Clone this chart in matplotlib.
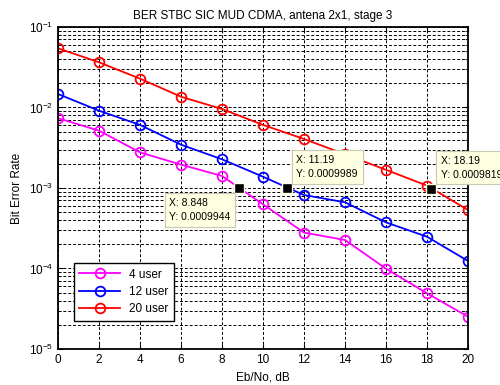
import matplotlib
matplotlib.use("Agg")
import matplotlib.pyplot as plt
import numpy as np

plt.rcParams['font.family'] = ['Liberation Sans', 'DejaVu Sans']

ebno = [0, 2, 4, 6, 8, 10, 12, 14, 16, 18, 20]
ber_4 = [0.00735, 0.00515, 0.00277, 0.00195, 0.00141, 0.000627, 0.000279, 0.000226, 0.0000995, 0.0000492, 0.0000252]
ber_12 = [0.0147, 0.00912, 0.00607, 0.00345, 0.00227, 0.00138, 0.000818, 0.000664, 0.000374, 0.000248, 0.000124]
ber_20 = [0.0543, 0.0364, 0.0228, 0.0136, 0.00957, 0.00607, 0.00406, 0.00262, 0.00168, 0.00107, 0.000533]
labels = ['4 user', '12 user', '20 user']
colors = ['#FF00FF', '#0000FF', '#FF0000']

tips_x = [8.848, 11.19, 18.19]
tips_y = [0.0009944, 0.0009989, 0.0009819]
tips_txt = ['X: 8.848\nY: 0.0009944', 'X: 11.19\nY: 0.0009989', 'X: 18.19\nY: 0.0009819']
tips_off = [(-70, -10), (9, 9), (10, 9)]
tips_va = ['top', 'bottom', 'bottom']

fig = plt.figure(figsize=(5.0, 3.85), dpi=100)
ax = fig.add_axes([0.116, 0.0935, 0.82, 0.8365])

for ys, lab, c in zip([ber_4, ber_12, ber_20], labels, colors):
    ax.semilogy(ebno, ys, '-o', color=c, lw=1.3, mfc='none', mec=c, ms=7, mew=1.3, label=lab)

ax.set_xlim(0, 20)
ax.set_ylim(1e-5, 1e-1)
ax.set_xticks(range(0, 21, 2))
ax.grid(True, which='major', ls=(0, (3, 2)), color='black', lw=0.7)
ax.grid(True, which='minor', axis='y', ls=(0, (3, 2)), color='black', lw=0.7)
ax.tick_params(which='both', direction='in', labelsize=8.5, top=True, right=True)
for s in ax.spines.values():
    s.set_linewidth(1.3)

ax.set_title('BER STBC SIC MUD CDMA, antena 2x1, stage 3', fontsize=8.5)
ax.set_xlabel('Eb/No, dB', fontsize=8.5)
ax.set_ylabel('Bit Error Rate', fontsize=8.5)

for x, y, t, off, va in zip(tips_x, tips_y, tips_txt, tips_off, tips_va):
    ax.plot([x], [y], 's', color='black', mec='#FFFFE1', ms=7, mew=1, zorder=5)
    ax.annotate(t, xy=(x, y), xytext=off, textcoords='offset pixels', fontsize=7.5,
                ha='left', va=va, zorder=6, annotation_clip=False, linespacing=1.5,
                bbox=dict(boxstyle='square,pad=0.45', fc='#FFFFE1', ec='#C8C8B4', lw=0.8))

leg = ax.legend(loc='lower left', bbox_to_anchor=(0.025, 0.07), fontsize=8.5, fancybox=False,
                edgecolor='black', framealpha=1, borderpad=0.45, handlelength=3.4, labelspacing=0.45)
leg.get_frame().set_linewidth(1.0)

fig.savefig('out.png', dpi=100)
